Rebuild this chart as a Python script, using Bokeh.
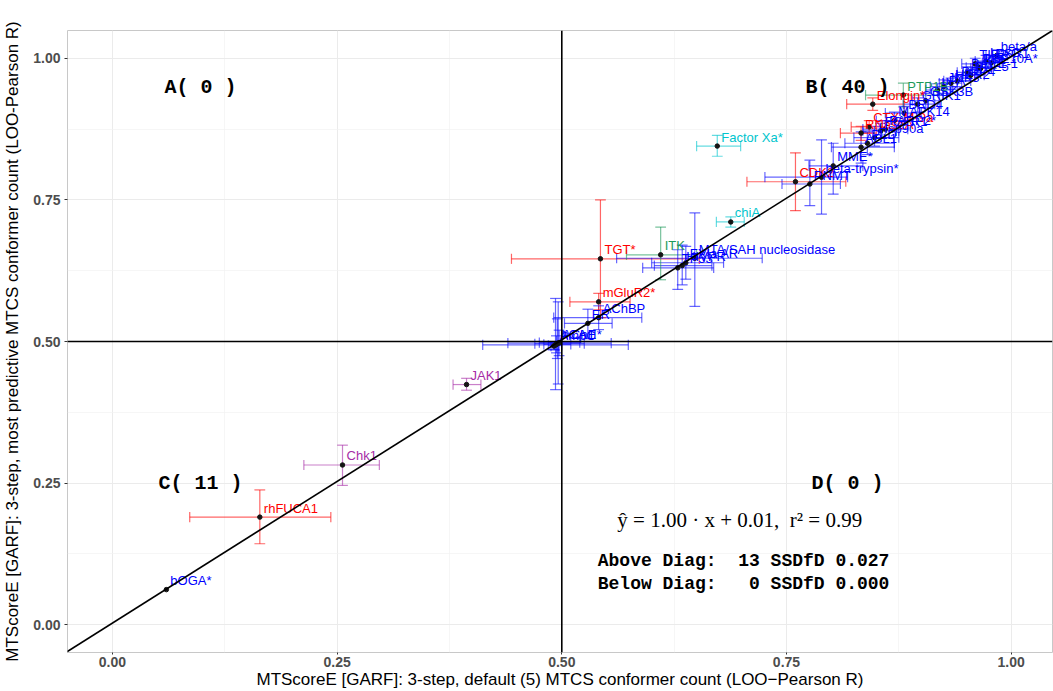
from bokeh.plotting import figure
from bokeh.models import (ColumnDataSource, Range1d, FixedTicker, Span, Slope, Label)
from bokeh.core.properties import value
from bokeh.embed import file_html
from bokeh.resources import INLINE
import numpy as np

# ---------------- data ----------------
names = ["bOGA*", "rhFUCA1", "Chk1", "JAK1",
         "AmpC", "AChE", "hCA II*", "", "", "", "",
         "ER", "AChBP", "mGluR2*", "TGT*", "ITK", "TP53*", "HIVPR", "FXIa AR",
         "MTA/SAH nucleosidase", "chiA", "Factor Xa*", "CDK2", "PNMT", "beta-trypsin*",
         "MME*", "ABL1", "PLD", "RNaseA", "Hsp90a", "CTX-M-9a", "PARP2*", "BRD4",
         "GRIK1", "Elongin*", "PTP1B", "uPA", "HER2", "JNK3", "BACE-1", "PDE10A*",
         "TIE2", "LpxC", "beta/a", "MAPK14", "GSK3B", "DPP4", "PDE5", "KIT",
         "FGFR1", "ESR1"]
groups = ["blue", "red", "purple", "purple",
          "blue", "blue", "blue", "blue", "blue", "blue", "blue",
          "blue", "blue", "red", "red", "green", "blue", "blue", "blue",
          "blue", "cyan", "cyan", "red", "blue", "blue",
          "blue", "blue", "blue", "red", "blue", "red", "blue", "blue",
          "blue", "red", "green", "blue", "blue", "blue", "blue", "blue",
          "blue", "blue", "blue", "blue", "blue", "blue", "blue", "blue",
          "blue", "blue"]
x_default = [0.060, 0.164, 0.256, 0.394,
             0.493, 0.496, 0.495, 0.494, 0.492, 0.497, 0.491,
             0.529, 0.541, 0.541, 0.543, 0.610, 0.629, 0.634, 0.638,
             0.648, 0.688, 0.673, 0.760, 0.776, 0.789,
             0.802, 0.833, 0.840, 0.833, 0.848, 0.842, 0.860, 0.881,
             0.896, 0.846, 0.880, 0.918, 0.933, 0.925, 0.951, 0.964,
             0.960, 0.972, 0.984, 0.870, 0.905, 0.940, 0.955, 0.966,
             0.855, 0.978]
y_best = [0.062, 0.190, 0.282, 0.424,
          0.494, 0.497, 0.496, 0.495, 0.493, 0.498, 0.492,
          0.532, 0.542, 0.570, 0.646, 0.653, 0.630, 0.634, 0.639,
          0.647, 0.711, 0.845, 0.782, 0.778, 0.790,
          0.810, 0.843, 0.850, 0.868, 0.860, 0.879, 0.875, 0.903,
          0.919, 0.919, 0.935, 0.944, 0.956, 0.950, 0.975, 0.984,
          0.990, 0.995, 1.005, 0.890, 0.925, 0.960, 0.970, 0.982,
          0.872, 0.992]
x_lo = [0.060, 0.086, 0.213, 0.379,
        0.412, 0.440, 0.470, 0.480, 0.485, 0.475, 0.488,
        0.503, 0.491, 0.509, 0.444, 0.572, 0.590, 0.603, 0.600,
        0.561, 0.672, 0.650, 0.706, 0.745, 0.726,
        0.775, 0.800, 0.815, 0.810, 0.825, 0.822, 0.835, 0.860,
        0.880, 0.817, 0.838, 0.905, 0.920, 0.910, 0.940, 0.950,
        0.945, 0.960, 0.972, 0.850, 0.890, 0.925, 0.940, 0.955,
        0.835, 0.968]
x_hi = [0.060, 0.243, 0.297, 0.410,
        0.574, 0.555, 0.525, 0.510, 0.500, 0.520, 0.496,
        0.556, 0.589, 0.576, 0.653, 0.650, 0.669, 0.667, 0.680,
        0.723, 0.703, 0.699, 0.816, 0.810, 0.818,
        0.835, 0.870, 0.870, 0.850, 0.875, 0.860, 0.885, 0.900,
        0.915, 0.881, 0.924, 0.935, 0.945, 0.940, 0.962, 0.978,
        0.975, 0.985, 0.996, 0.890, 0.920, 0.955, 0.970, 0.978,
        0.875, 0.990]
y_lo = [0.062, 0.143, 0.246, 0.414,
        0.415, 0.425, 0.470, 0.480, 0.485, 0.475, 0.486,
        0.505, 0.521, 0.556, 0.542, 0.609, 0.592, 0.600, 0.610,
        0.562, 0.702, 0.827, 0.731, 0.740, 0.725,
        0.760, 0.815, 0.830, 0.855, 0.845, 0.868, 0.860, 0.890,
        0.905, 0.908, 0.914, 0.935, 0.945, 0.938, 0.965, 0.975,
        0.980, 0.985, 0.995, 0.875, 0.912, 0.950, 0.960, 0.972,
        0.860, 0.982]
y_hi = [0.062, 0.238, 0.317, 0.435,
        0.576, 0.570, 0.540, 0.510, 0.500, 0.520, 0.498,
        0.557, 0.563, 0.585, 0.750, 0.702, 0.662, 0.670, 0.668,
        0.727, 0.720, 0.864, 0.833, 0.820, 0.856,
        0.850, 0.870, 0.870, 0.880, 0.880, 0.890, 0.890, 0.915,
        0.930, 0.930, 0.956, 0.955, 0.965, 0.962, 0.985, 0.993,
        1.000, 1.005, 1.015, 0.905, 0.938, 0.970, 0.980, 0.992,
        0.885, 1.002]

group_colors = {"blue": "#0000FF", "red": "#FF0000", "purple": "#A62CA6",
                "green": "#1E9A5A", "cyan": "#00C5CD"}

tick_values = [0.0, 0.25, 0.5, 0.75, 1.0]
tick_labels = ["0.00", "0.25", "0.50", "0.75", "1.00"]
minor_values = [-0.125, 0.125, 0.375, 0.625, 0.875, 1.125]

fit_slope = 1.00
fit_intercept = 0.003
equation_text = "ŷ = 1.00 · x + 0.01,  r² = 0.99"
stats_lines = ["Above Diag:  13 SSDfD 0.027", "Below Diag:   0 SSDfD 0.000"]

x_title = "MTScoreE [GARF]: 3-step, default (5) MTCS conformer count (LOO\u2212Pearson R)"
y_title = "MTScoreE [GARF]: 3-step, most predictive MTCS conformer count (LOO-Pearson R)"

# ---------------- derived ----------------
xd = np.array(x_default); yb = np.array(y_best)
xl = np.array(x_lo); xh = np.array(x_hi); yl = np.array(y_lo); yh = np.array(y_hi)
cols = [group_colors[g] for g in groups]

cap_x = 0.006   # half width of caps on vertical bars (data units x)
cap_y = 0.009   # half height of caps on horizontal bars (data units y)

mx = xh > xl
my = yh > yl

hsrc = ColumnDataSource(dict(x0=xl[mx], x1=xh[mx], y=yb[mx],
                             c=[c for c, m in zip(cols, mx) if m]))
vsrc = ColumnDataSource(dict(y0=yl[my], y1=yh[my], x=xd[my],
                             c=[c for c, m in zip(cols, my) if m]))
psrc = ColumnDataSource(dict(x=xd, y=yb, label=names, c=cols))

count_A = int(np.sum((xd < 0.5) & (yb > 0.5)))
count_B = int(np.sum((xd > 0.5) & (yb > 0.5)))
count_C = int(np.sum((xd < 0.5) & (yb < 0.5)))
count_D = int(np.sum((xd > 0.5) & (yb < 0.5)))

# ---------------- figure ----------------
p = figure(width=1053, height=691, output_backend="svg", toolbar_location=None,
           x_range=Range1d(-0.05, 1.046), y_range=Range1d(-0.049, 1.049),
           min_border_left=67, min_border_right=1, min_border_top=30, min_border_bottom=37)
p.background_fill_color = "white"
p.border_fill_color = "white"
p.outline_line_color = "#C8C8C8"
p.outline_line_width = 1

for ax in (p.xaxis[0], p.yaxis[0]):
    ax.ticker = FixedTicker(ticks=tick_values, minor_ticks=minor_values)
    ax.major_label_overrides = {v: l for v, l in zip(tick_values, tick_labels)}
    ax.major_label_text_font = "Liberation Sans"
    ax.major_label_text_font_style = "bold"
    ax.major_label_text_font_size = "14px"
    ax.major_label_text_color = "#4D4D4D"
    ax.axis_line_color = None
    ax.major_tick_line_color = "#333333"
    ax.major_tick_out = 3
    ax.major_tick_in = 0
    ax.minor_tick_line_color = None
    ax.axis_label_text_font = "Liberation Sans"
    ax.axis_label_text_font_size = "17px"
    ax.axis_label_text_font_style = "normal"
    ax.axis_label_text_color = "black"

p.xaxis.major_tick_out = 2
p.xaxis.major_label_standoff = 0
p.xaxis.axis_label_standoff = 0
p.yaxis.major_label_standoff = 3
p.yaxis.axis_label_standoff = 8

p.xaxis.axis_label = x_title
p.yaxis.axis_label = y_title

for g in (p.xgrid[0], p.ygrid[0]):
    g.grid_line_color = "#EBEBEB"
    g.grid_line_width = 1
    g.minor_grid_line_color = "#F2F2F2"
    g.minor_grid_line_width = 0.7

# quadrant lines
p.add_layout(Span(location=0.5, dimension="width", line_color="black", line_width=1.6))
p.add_layout(Span(location=0.5, dimension="height", line_color="black", line_width=1.6))

# error bars
eb_alpha = 0.6
p.segment(x0="x0", y0="y", x1="x1", y1="y", source=hsrc, line_color="c", line_alpha=eb_alpha, line_width=1.2)
hcap = ColumnDataSource(dict(
    xs=np.concatenate([xl[mx], xh[mx]]),
    y0=np.concatenate([yb[mx] - cap_y, yb[mx] - cap_y]),
    y1=np.concatenate([yb[mx] + cap_y, yb[mx] + cap_y]),
    c=[c for c, m in zip(cols, mx) if m] * 2))
p.segment(x0="xs", y0="y0", x1="xs", y1="y1", source=hcap, line_color="c", line_alpha=eb_alpha, line_width=1.2)

p.segment(x0="x", y0="y0", x1="x", y1="y1", source=vsrc, line_color="c", line_alpha=eb_alpha, line_width=1.2)
vcap = ColumnDataSource(dict(
    ys=np.concatenate([yl[my], yh[my]]),
    x0=np.concatenate([xd[my] - cap_x, xd[my] - cap_x]),
    x1=np.concatenate([xd[my] + cap_x, xd[my] + cap_x]),
    c=[c for c, m in zip(cols, my) if m] * 2))
p.segment(x0="x0", y0="ys", x1="x1", y1="ys", source=vcap, line_color="c", line_alpha=eb_alpha, line_width=1.2)

# regression line
p.add_layout(Slope(gradient=fit_slope, y_intercept=fit_intercept, line_color="black", line_width=1.6))

# points
p.scatter(x="x", y="y", source=psrc, size=4.5, fill_color="#151515", line_color="#151515")

# labels
p.text(x="x", y="y", text="label", source=psrc, text_color="c",
       text_font=value("Liberation Sans"), text_font_size="13px",
       x_offset=4, y_offset=-9, text_baseline="middle", text_align="left")

# quadrant labels
quad_font = dict(text_font="Liberation Mono", text_font_style="bold", text_font_size="20px",
                 text_align="center", text_baseline="middle", text_color="black")
p.add_layout(Label(x=0.098, y=0.949, text=f"A( {count_A} )", **quad_font))
p.add_layout(Label(x=0.818, y=0.949, text=f"B( {count_B} )", **quad_font))
p.add_layout(Label(x=0.098, y=0.250, text=f"C( {count_C} )", **quad_font))
p.add_layout(Label(x=0.818, y=0.250, text=f"D( {count_D} )", **quad_font))

p.add_layout(Label(x=0.698, y=0.185, text=equation_text.replace("  ", "\u00a0 "),
                   text_font="Liberation Serif",
                   text_font_size="21px", text_align="center", text_baseline="middle",
                   text_color="black"))
for i, line in enumerate(stats_lines):
    p.add_layout(Label(x=0.54, y=0.113 - i * 0.041, text=line.replace(" ", "\u00a0"),
                       text_font="Liberation Mono",
                       text_font_style="bold", text_font_size="18px", text_align="left",
                       text_baseline="middle", text_color="black"))

open("out.html", "w").write(file_html(p, INLINE))
